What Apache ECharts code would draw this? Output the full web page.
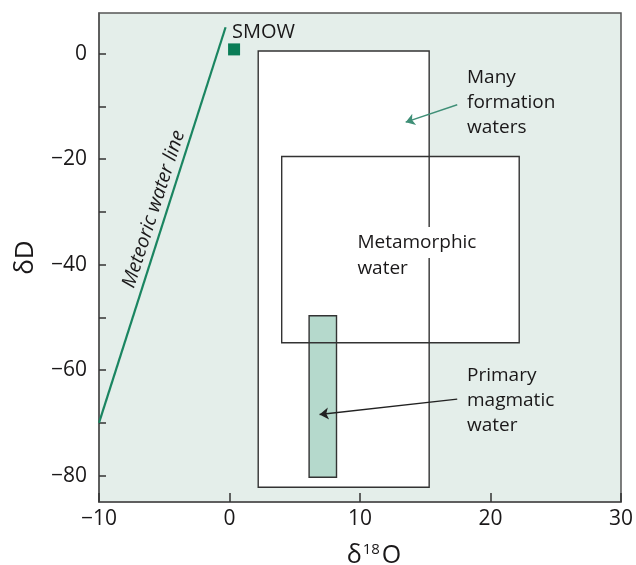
<!DOCTYPE html>
<html>
<head>
<meta charset="utf-8">
<script src="https://cdn.jsdelivr.net/npm/echarts@6/dist/echarts.min.js"></script>
<style>
html,body{margin:0;padding:0;background:#fff;}
#chart{width:636px;height:565px;}
</style>
</head>
<body>
<div id="chart"></div>
<script>
// ---- Data ----
const xLabelValues = [-10, 0, 10, 20, 30];
const yLabelValues = [-80, -60, -40, -20, 0];
const yTickValues = [-80, -70, -60, -50, -40, -30, -20, -10, 0];

// Boxes: name, x from/to (δ18O), y from/to (δD)
const boxNames = ['Many formation waters', 'Metamorphic water', 'Primary magmatic water'];
const boxX0 = [2.2, 4.0, 6.1];
const boxX1 = [15.3, 22.2, 8.2];
const boxY0 = [-82.2, -54.8, -80.3];
const boxY1 = [0.5, -19.5, -49.7];

// Meteoric water line end points
const meteoricX = [-10, -0.3];
const meteoricY = [-70, 5];

// SMOW marker
const smowX = [0.35];
const smowY = [0.8];

// Text labels: [x, y]
const labelTexts = ['SMOW', 'Many\nformation\nwaters', 'Metamorphic', 'water', 'Primary\nmagmatic\nwater'];
const labelX = [0.2, 18.2, 9.8, 9.8, 18.2];
const labelY = [4.1, -9.2, -35.8, -40.7, -65.8];
const labelBg = [false, false, true, false, false];

// Arrows: from [x,y] to [x,y]
const arrowFromX = [17.45, 17.45];
const arrowFromY = [-9.7, -65.5];
const arrowToX = [13.5, 6.9];
const arrowToY = [-13.0, -68.4];

// ---- Chart ----
const FONT = '"Open Sans", "Noto Sans", sans-serif';
const TXT = '#1a1819';
const fmt = v => String(v).replace('-', '\u2212');
const chart = echarts.init(document.getElementById('chart'), null, {renderer: 'canvas'});

const boxData = boxNames.map((n, i) => [boxX0[i], boxX1[i], boxY0[i], boxY1[i], i]);
const boxFills = ['#ffffff', '#ffffff', '#b5d9cc'];

function boxRect(api) {
  const p0 = api.coord([api.value(0), api.value(3)]);
  const p1 = api.coord([api.value(1), api.value(2)]);
  return {x: p0[0], y: p0[1], width: p1[0] - p0[0], height: p1[1] - p0[1]};
}

const option = {
  animation: false,
  backgroundColor: '#ffffff',
  grid: {
    left: 99, right: 15, top: 13, bottom: 63,
    outerBoundsMode: 'none', containLabel: false,
    show: true, backgroundColor: '#e4eeea', borderColor: '#555', borderWidth: 1.5
  },
  xAxis: {
    type: 'value', min: -10, max: 30, interval: 10,
    axisLine: {show: true, onZero: false, lineStyle: {color: '#555', width: 1.5}},
    axisTick: {show: true, inside: true, length: 9, lineStyle: {color: '#333', width: 1.5}},
    axisLabel: {color: TXT, fontSize: 21, fontFamily: FONT, margin: 7, formatter: fmt},
    splitLine: {show: false},
    name: '{d|δ}{s|18}{d|O}',
    nameLocation: 'middle', nameGap: 40,
    nameTextStyle: {
      padding: [0, 0, 0, 28],
      rich: {
        d: {fontSize: 25, fontFamily: FONT, color: TXT},
        s: {fontSize: 15, fontFamily: FONT, color: TXT, verticalAlign: 'top', padding: [0, 2, 12, 1]}
      }
    }
  },
  yAxis: {
    type: 'value', min: -85, max: 7.7,
    axisLine: {show: true, onZero: false, lineStyle: {color: '#555', width: 1.5}},
    axisTick: {show: true, inside: true, length: 7, customValues: yTickValues, lineStyle: {color: '#333', width: 1.5}},
    axisLabel: {color: TXT, fontSize: 21, fontFamily: FONT, margin: 12, formatter: fmt, customValues: yLabelValues},
    splitLine: {show: false},
    name: 'δD', nameLocation: 'middle', nameGap: 60,
    nameTextStyle: {fontSize: 26, fontFamily: FONT, color: TXT}
  },
  series: [
    {
      type: 'custom', name: 'boxFill', data: boxData, encode: {x: [0, 1], y: [2, 3]},
      renderItem: (params, api) => ({
        type: 'rect', shape: boxRect(api),
        style: {fill: boxFills[api.value(4)], stroke: null}
      }),
      z: 1, silent: true
    },
    {
      type: 'custom', name: 'boxLine', data: boxData, encode: {x: [0, 1], y: [2, 3]},
      renderItem: (params, api) => ({
        type: 'rect', shape: boxRect(api),
        style: {fill: 'none', stroke: '#333', lineWidth: 1.4}
      }),
      z: 2, silent: true
    },
    {
      type: 'line', name: 'Meteoric water line',
      data: meteoricX.map((x, i) => [x, meteoricY[i]]),
      showSymbol: false, symbol: 'none',
      lineStyle: {color: '#1a8561', width: 2.2}, z: 3
    },
    {
      type: 'scatter', name: 'SMOW',
      data: smowX.map((x, i) => [x, smowY[i]]),
      symbol: 'rect', symbolSize: 12,
      itemStyle: {color: '#0a7d57', opacity: 1}, z: 3
    },
    {
      type: 'lines', coordinateSystem: 'cartesian2d', name: 'arrows',
      data: arrowFromX.map((x, i) => ({
        coords: [[x, arrowFromY[i]], [arrowToX[i], arrowToY[i]]],
        lineStyle: {color: i === 0 ? '#3f8f77' : '#222'}
      })),
      symbol: ['none', 'arrow'], symbolSize: [0, 9],
      lineStyle: {width: 1.4, opacity: 1},
      itemStyle: {color: '#111'},
      z: 4, silent: true
    },
    {
      type: 'custom', name: 'labels',
      data: labelTexts.map((t, i) => [labelX[i], labelY[i], i]),
      encode: {x: 0, y: 1},
      renderItem: (params, api) => {
        const i = api.value(2);
        const p = api.coord([api.value(0), api.value(1)]);
        const st = {
          text: labelTexts[i], x: 0, y: 0, fill: TXT,
          fontSize: i === 0 ? 20 : 19, fontFamily: FONT, lineHeight: 25,
          align: 'left', verticalAlign: 'middle'
        };
        if (labelBg[i]) { st.backgroundColor = '#ffffff'; st.padding = [3, 2, 3, 0]; }
        return {type: 'text', x: p[0], y: p[1], style: st};
      },
      z: 5, silent: true
    },
    {
      type: 'custom', name: 'meteoricLabel',
      data: [[-5.8, -29.5]], encode: {x: 0, y: 1},
      renderItem: (params, api) => {
        const p = api.coord([api.value(0), api.value(1)]);
        return {
          type: 'text', x: p[0], y: p[1], rotation: 72 * Math.PI / 180,
          style: {
            text: 'Meteoric water line', x: 0, y: 0, fill: TXT,
            fontSize: 19.5, fontStyle: 'italic', fontFamily: FONT,
            align: 'center', verticalAlign: 'middle'
          }
        };
      },
      z: 5, silent: true
    }
  ]
};
chart.setOption(option);
</script>
</body>
</html>
